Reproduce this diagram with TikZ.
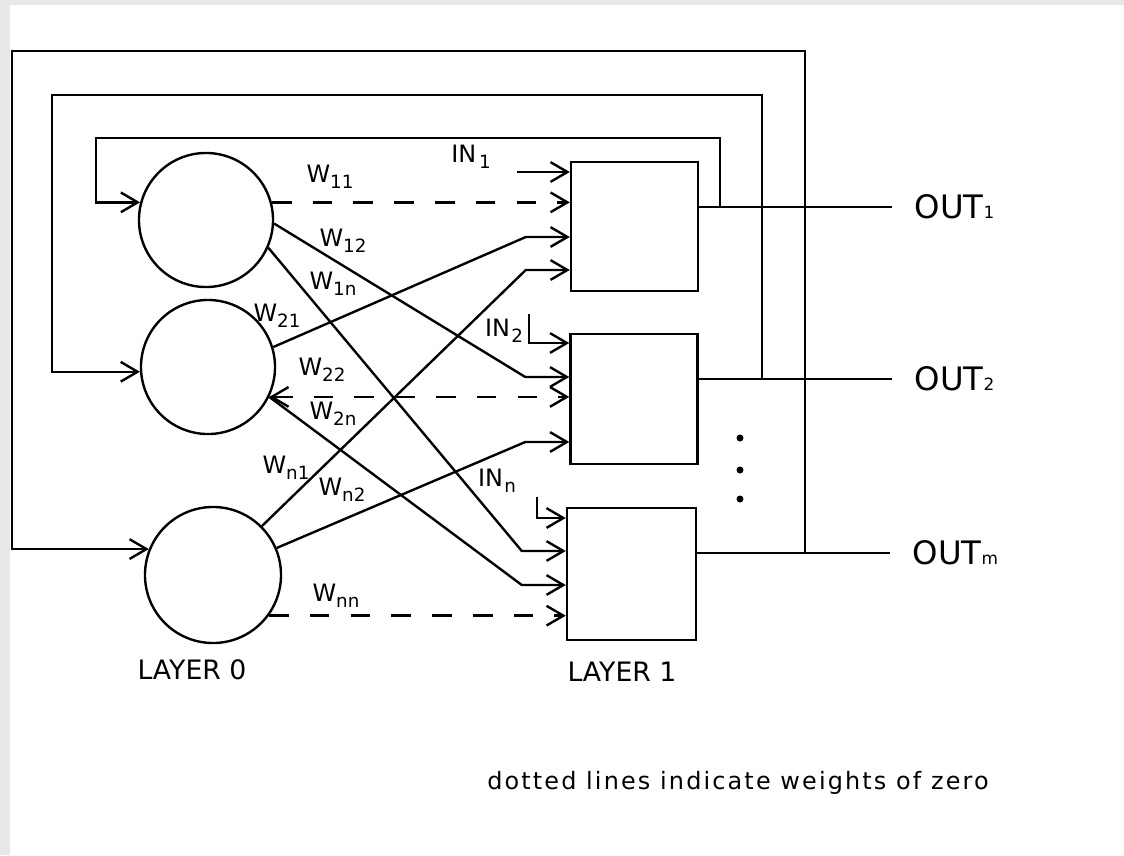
\documentclass[tikz,border=0pt]{standalone}
\usepackage{fontspec}
\setmainfont{DejaVu Sans}
\usetikzlibrary{calc,arrows.meta}
\tikzset{
  wire/.style={line width=1.7pt},
  zero/.style={wire,dash pattern=on 14pt off 15pt},
  neuron/.style={circle,draw,wire,minimum size=3.35cm,inner sep=0pt},
  unit/.style={rectangle,draw,wire,minimum width=3.175cm,minimum height=3.225cm,inner sep=0pt},
  wlab/.style={font=\fontsize{17}{17}\selectfont,inner sep=0pt},
  outlab/.style={anchor=west,inner xsep=16pt,inner ysep=0pt,font=\fontsize{23}{23}\selectfont},
  >={Straight Barb[length=12pt,width=14pt]}
}
\newcommand\sub[1]{\raisebox{-4.5pt}{\fontsize{13}{13}\selectfont#1}}
\newcommand\osub[1]{{\fontsize{12}{12}\selectfont#1}}
% weight line: from a neuron to a unit input, bent to horizontal before the box
\newcommand\link[3]{\draw[wire,->] (#1) -- ($(#2.west |- 0,#3)+(-44,0)$) -- (#2.west |- 0,#3);}

\begin{document}
\begin{tikzpicture}[x=0.025cm,y=-0.025cm]
\useasboundingbox (0,0) rectangle (1124,855);
\fill[gray!18] (0,0) rectangle (10,855);
\fill[gray!18] (0,0) rectangle (1124,5);
% layer 0
\node[neuron] (c1) at (206,220) {};
\node[neuron] (c2) at (208,367) {};
\node[neuron,minimum size=3.4cm] (c3) at (213,575) {};
% layer 1
\node[unit] (b1) at (634.5,226.5) {};
\node[unit,minimum height=3.25cm] (b2) at (634,399) {};
\node[unit,minimum width=3.225cm,minimum height=3.3cm] (b3) at (631.5,574) {};
% outputs
\node[outlab] (out1) at (892,207) {OUT\osub{1}};
\node[outlab] (out2) at (892,379) {OUT\osub{2}};
\node[outlab] (outm) at (890,553) {OUT\osub{m}};
\draw[wire] (b1.east |- out1) -- (out1.west);
\draw[wire] (b2.east |- out2) -- (out2.west);
\draw[wire] (b3.east |- outm) -- (outm.west);
% feedback to layer 0
\coordinate (j1) at (720,207);
\coordinate (j2) at (762,379);
\coordinate (j3) at (805,553);
\draw[wire,->] (j1) |- (96,138) |- (c1.165);
\draw[wire,->] (j2) |- (52,95) |- (c2.184);
\draw[wire,->] (j3) |- (12,51) |- (c3.158);
% external inputs
\coordinate (in1) at (517,172);
\coordinate (in2) at (529,314);
\coordinate (inn) at (537,497);
\draw[wire,->] (in1) -- (b1.west |- in1);
\draw[wire,->] (in2) |- (b2.west |- 0,343);
\draw[wire,->] (inn) |- (b3.west |- 0,518);
\node[wlab] (lin1) at (471,157) {IN\kern2pt\sub{1}};
\node[wlab] (lin2) at (504,331) {IN\kern1pt\sub{2}};
\node[wlab] (linn) at (497,481) {IN\kern1pt\sub{n}};
% zero weights
\draw[zero,->] (c1.15) -- (b1.west |- c1.15);
\draw[zero,<->] (c2.-26) -- (b2.west |- c2.-26);
\draw[zero,->] (c3.-36) -- (b3.west |- c3.-36);
% weights
\link{c1.-3}{b2}{377}
\link{c1.-24}{b3}{551}
\link{c2.17}{b1}{237}
\link{c2.-26}{b3}{585}
\link{c3.45}{b1}{270}
\link{c3.23}{b2}{442}
\node[wlab] (w11) at (330,177) {W\sub{11}};
\node[wlab] (w12) at (343,241) {W\sub{12}};
\node[wlab] (w1n) at (333,284) {W\sub{1n}};
\node[wlab] (w21) at (277,316) {W\sub{21}};
\node[wlab] (w22) at (322,370) {W\sub{22}};
\node[wlab] (w2n) at (333,414) {W\sub{2n}};
\node[wlab] (wn1) at (286,468) {W\sub{n1}};
\node[wlab] (wn2) at (342,490) {W\sub{n2}};
\node[wlab] (wnn) at (336,596) {W\sub{nn}};
% more units
\foreach \y in {438,470,499} \fill (740,\y) circle (3.5);
\node[font=\fontsize{19}{19}\selectfont] (lay0) at (192,670) {LAYER 0};
\node[font=\fontsize{19}{19}\selectfont] (lay1) at (622,672) {LAYER 1};
\node[font=\fontsize{17}{17}\selectfont\addfontfeatures{LetterSpace=9}] (note) at (738,783) {dotted lines indicate weights of zero};
\end{tikzpicture}
\end{document}
